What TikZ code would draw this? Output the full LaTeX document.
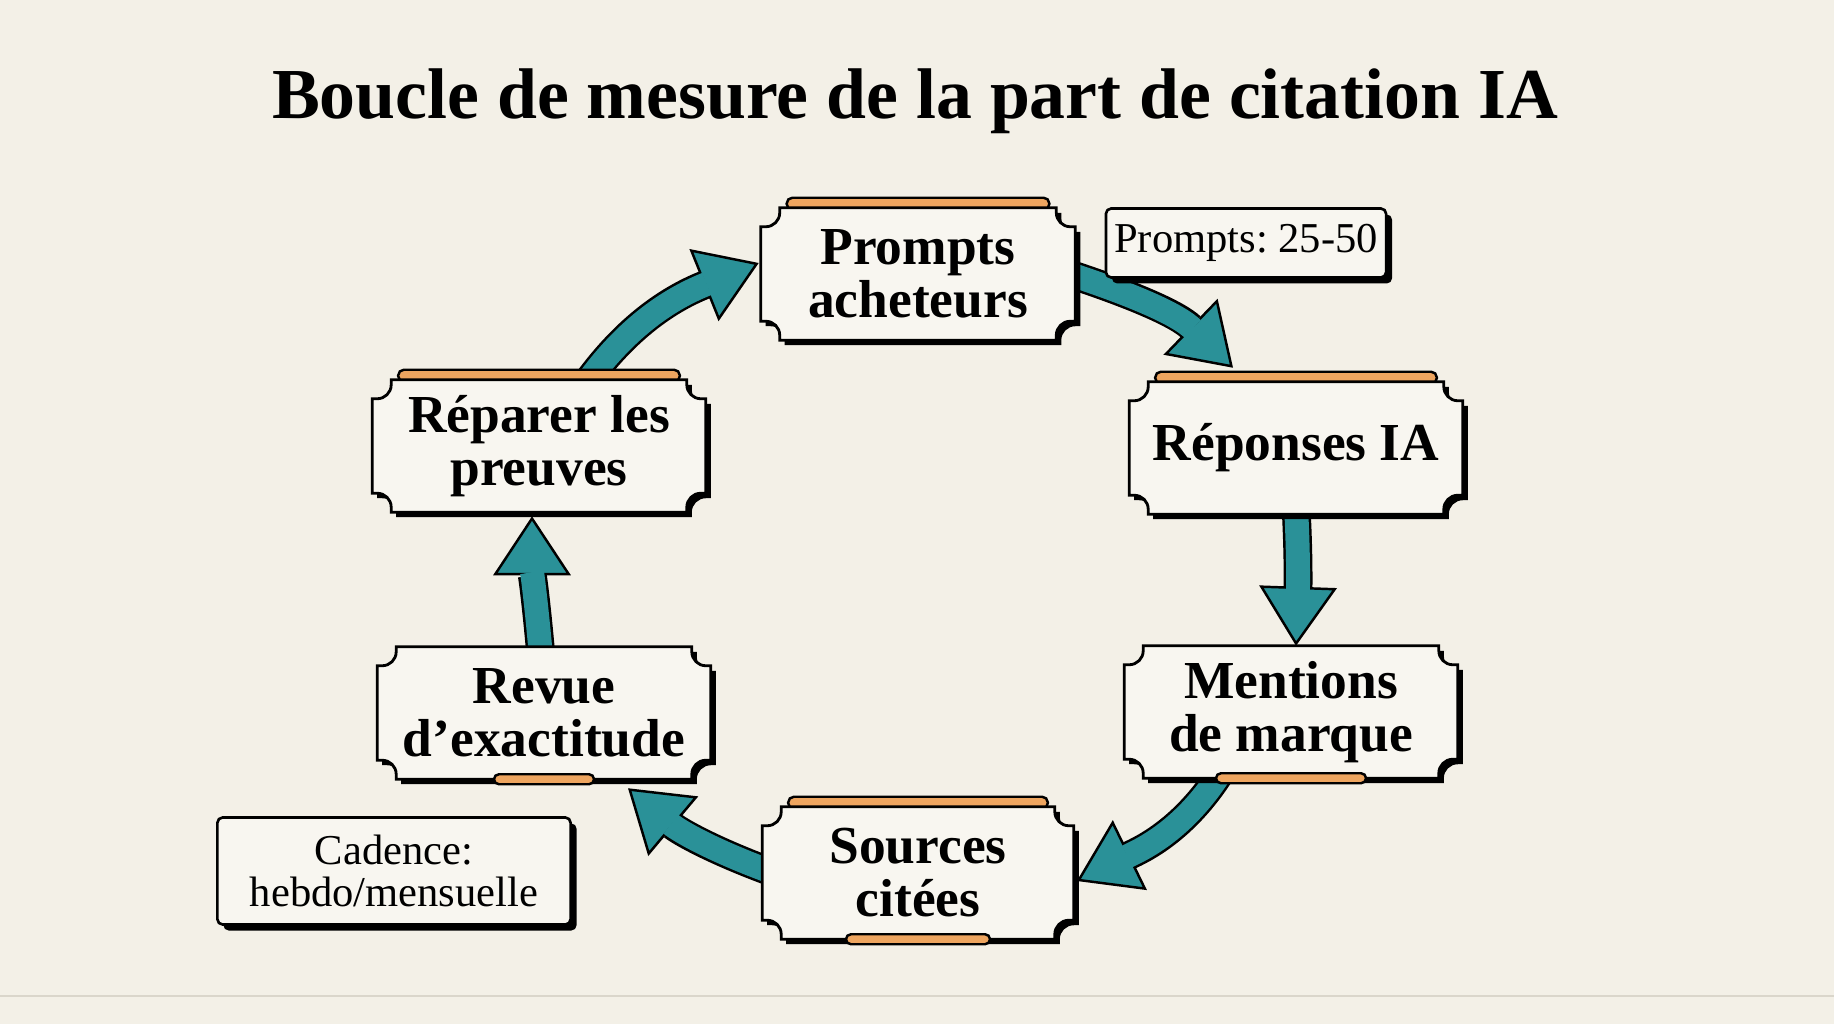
\documentclass[tikz,border=0pt]{standalone}
\usepackage{fontspec}
\setmainfont{Liberation Serif}
\usetikzlibrary{arrows.meta,calc,shadows}
\frenchspacing

\definecolor{paper}{RGB}{243,240,231}
\definecolor{cardfill}{RGB}{248,246,240}
\definecolor{flowteal}{RGB}{42,145,152}
\definecolor{taborange}{RGB}{238,165,95}
\definecolor{rulegray}{RGB}{218,214,203}

\pgfdeclarelayer{paper}
\pgfdeclarelayer{arrows}
\pgfdeclarelayer{plaques}
\pgfsetlayers{paper,arrows,plaques,main}

\tikzset{
  stage/.style={minimum width=3.32cm, minimum height=1.31cm, inner sep=0pt,
    align=center, font=\bfseries\fontsize{15.2}{15.1}\selectfont},
  note/.style={draw=black, line width=0.75pt, fill=cardfill, rounded corners=1.5pt,
    inner sep=0pt, align=center, font=\fontsize{12.1}{11.8}\selectfont,
    drop shadow={shadow xshift=1.7pt, shadow yshift=-1.7pt, fill=black, opacity=1}},
  flowline/.style={line width=8.2pt, black,
    -{Triangle[length=16.8pt,width=22pt,color=black,fill=flowteal,line width=0.7pt]}},
  flowcore/.style={line width=6.8pt, flowteal, shorten >=15.9pt},
  tab/.style={fill=taborange, draw=black, line width=0.7pt}
}

% ticket outline with notched corners, #2 = offset
\newcommand{\ticketpath}[2]{%
  ($(#1.north west)+(19,0)+(#2)$) -- ($(#1.north east)+(-19,0)+(#2)$)
  -- ++(0,-5) arc[start angle=180,end angle=270,radius=14] -- ++(5,0)
  -- ($(#1.south east)+(0,19)+(#2)$) -- ++(-5,0) arc[start angle=90,end angle=180,radius=14] -- ++(0,-5)
  -- ($(#1.south west)+(19,0)+(#2)$) -- ++(0,5) arc[start angle=0,end angle=90,radius=14] -- ++(-5,0)
  -- ($(#1.north west)+(0,-19)+(#2)$) -- ++(5,0) arc[start angle=270,end angle=360,radius=14] -- cycle}

% fat outlined arrow: from, path operation, to
\newcommand{\flowarrow}[3]{%
  \draw[flowline] #1 #2 #3;
  \draw[flowcore] #1 #2 #3;}

\begin{document}
\begin{tikzpicture}[x=0.01cm,y=0.01cm,line join=round]
  \useasboundingbox (0,0) rectangle (1834,1024);
  \begin{pgfonlayer}{paper}
    \fill[paper] (0,0) rectangle (1834,1024);
    \draw[rulegray, line width=0.7pt] (0,28) -- (1834,28);
  \end{pgfonlayer}

  % Title.
  \node[anchor=base, font=\bfseries\fontsize{20.4}{24}\selectfont] (title) at (915,905)
    {Boucle de mesure de la part de citation IA};

  % Loop stages.
  \node[stage, minimum width=3.13cm] (pa) at (918,750) {Prompts\\acheteurs};
  \node[stage] (rep) at (1296,576) {Réponses IA};
  \node[stage] (men) at (1291,312) {Mentions\\de marque};
  \node[stage, minimum width=3.10cm] (src) at (918,151) {Sources\\citées};
  \node[stage] (rev) at (544,311) {Revue\\d’exactitude};
  \node[stage] (fix) at (539,578) {Réparer les\\preuves};

  % Side notes.
  \node[note, minimum width=2.80cm, minimum height=0.69cm] (count) at (1246,781) {Prompts: 25-50};
  \node[note, minimum width=3.53cm, minimum height=1.07cm] (cadence) at (394,153) {Cadence:\\hebdo/mensuelle};

  % Ticket frames and tabs.
  \begin{pgfonlayer}{plaques}
    \foreach \n in {pa,rep,src,fix} {
      \filldraw[tab, rounded corners=1.6pt] ($(\n.north west)+(26,-2)$) rectangle ($(\n.north east)+(-26,10)$);
    }
    \foreach \n in {pa,rep,men,src,rev,fix} {
      \fill[black] \ticketpath{\n}{5,-5};
      \filldraw[fill=cardfill, draw=black, line width=0.8pt] \ticketpath{\n}{0,0};
    }
    \filldraw[tab, rounded corners=1.4pt] ($(men.south)+(-75,-5)$) rectangle ($(men.south)+(75,5)$);
    \filldraw[tab, rounded corners=1.4pt] ($(src.south)+(-72,-5)$) rectangle ($(src.south)+(72,5)$);
    \filldraw[tab, rounded corners=1.4pt] ($(rev.south)+(-50,-5)$) rectangle ($(rev.south)+(50,5)$);
  \end{pgfonlayer}

  % Loop arrows.
  \begin{pgfonlayer}{arrows}
    \flowarrow{($(fix.north)+(44,-8)$)}{to[out=55,in=202]}{($(pa.west)+(-2,11)$)}
    \flowarrow{($(pa.east)+(-12,2)$)}{to[out=-18,in=136]}{($(rep.north)+(-63,14)$)}
    \flowarrow{($(rep.south)+(0,8)$)}{to[out=-87,in=88]}{($(men.north)+(5,0)$)}
    \flowarrow{($(men.south)+(-69,8)$)}{to[out=238,in=26]}{($(src.east)+(3,-8)$)}
    \flowarrow{($(src.west)+(12,0)$)}{to[out=160,in=320]}{($(rev.south)+(84,-9)$)}
    \flowarrow{($(rev.north)+(-3,-10)$)}{to[out=95,in=270]}{($(fix.south)+(-7,-4)$)}
  \end{pgfonlayer}
\end{tikzpicture}
\end{document}
